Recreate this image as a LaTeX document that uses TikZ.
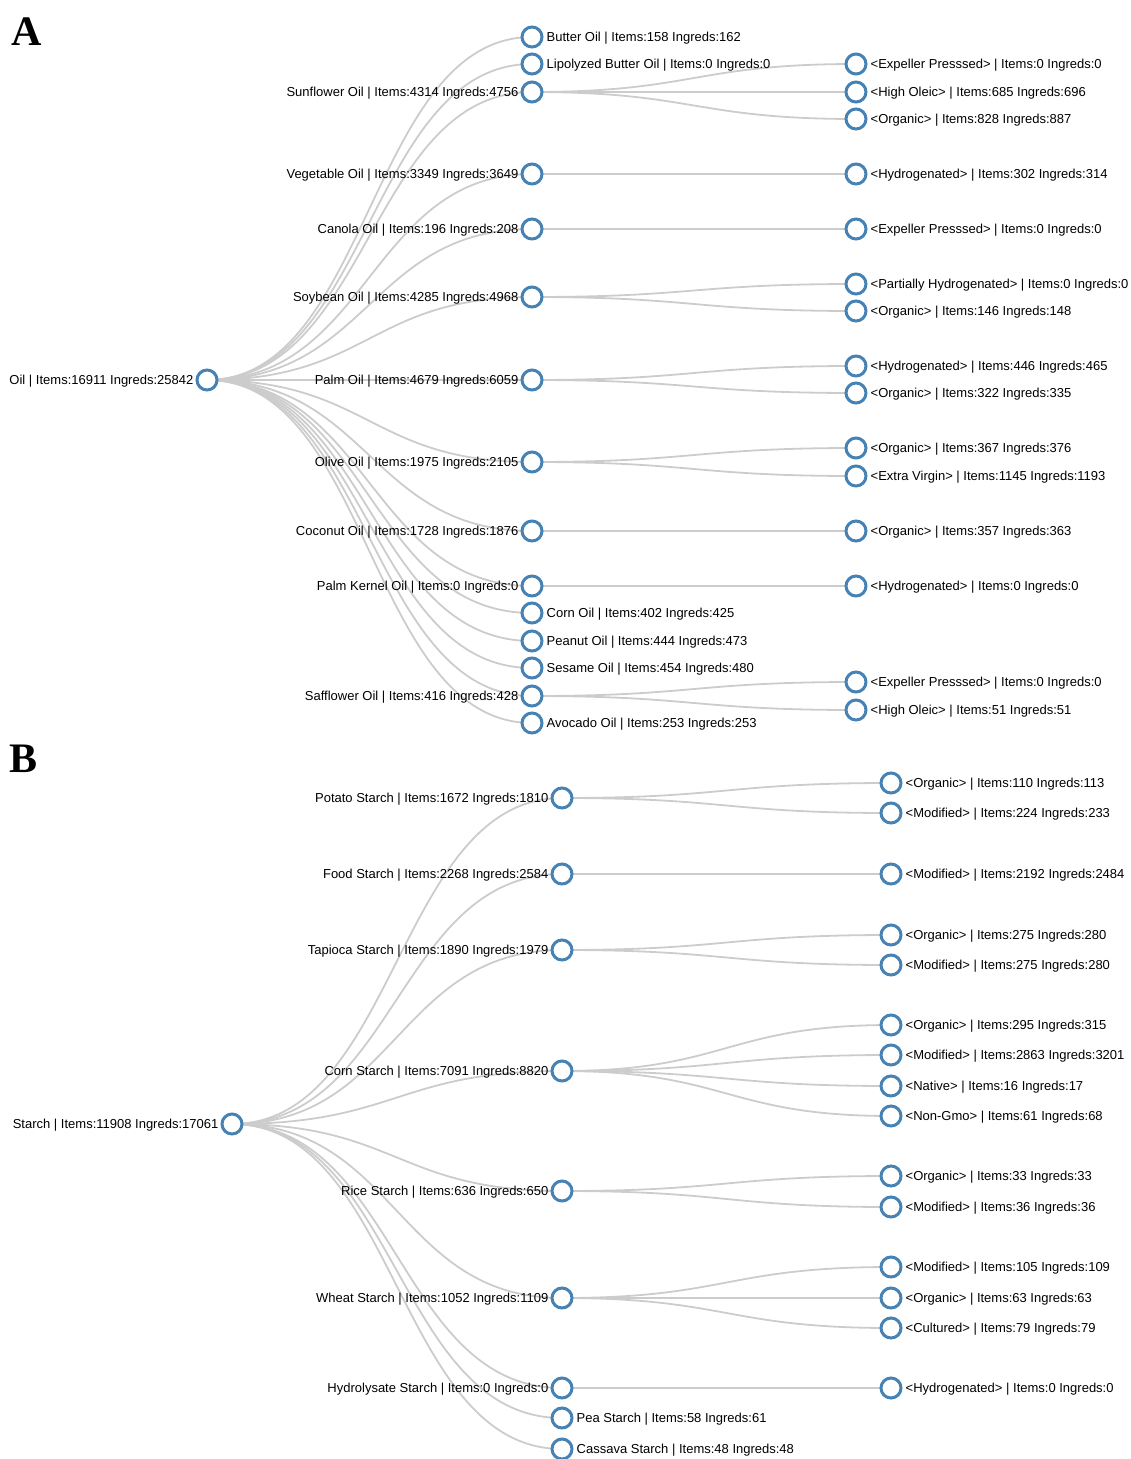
\documentclass[tikz,border=0pt]{standalone}
\usepackage{fontspec}
\setmainfont{Liberation Sans}
\newfontfamily\panelfont{Liberation Serif}
\usepackage{xcolor}
\usepackage{tikz}
\usetikzlibrary{calc,backgrounds}
\definecolor{steel}{HTML}{4682B4}
\definecolor{linkgray}{HTML}{CCCCCC}
\begin{document}
\begin{tikzpicture}[
    x=1pt,y=-1pt,
    lbl/.style={font=\fontsize{13}{15}\selectfont,inner sep=0pt,text height=9.5pt,text depth=0.4pt},
    nd/.style={circle,draw=steel,fill=white,line width=3pt,minimum size=20pt,inner sep=0pt,label distance=2.5pt},
    lft/.style={nd,label={[lbl,xshift=-2pt]left:{#1}}},
    rgt/.style={nd,label={[lbl,xshift=3pt]right:{#1}}},
    panel/.style={font=\panelfont\fontsize{42}{42}\selectfont\bfseries,inner sep=0pt,anchor=base west},
    link/.style={draw=linkgray,line width=1.8pt,
      to path={let \p1=(\tikztostart), \p2=(\tikztotarget) in
        .. controls ({(\x1+\x2)/2},\y1) and ({(\x1+\x2)/2},\y2) .. (\tikztotarget)}}
  ]
    \useasboundingbox (0,0) rectangle (1131,1459);
    \node[panel] (pA) at (11,45) {A};
    \node[panel] (pB) at (9,772) {B};
    % oil tree
    \node[lft={Oil | Items:16911 Ingreds:25842}] (oil) at (207,380) {};
    \node[rgt={Butter Oil | Items:158 Ingreds:162}] (butter) at (532,37) {};
    \node[rgt={Lipolyzed Butter Oil | Items:0 Ingreds:0}] (lipo) at (532,64) {};
    \node[lft={Sunflower Oil | Items:4314 Ingreds:4756}] (sunflower) at (532,92) {};
    \node[lft={Vegetable Oil | Items:3349 Ingreds:3649}] (vegetable) at (532,174) {};
    \node[lft={Canola Oil | Items:196 Ingreds:208}] (canola) at (532,229) {};
    \node[lft={Soybean Oil | Items:4285 Ingreds:4968}] (soybean) at (532,297) {};
    \node[lft={Palm Oil | Items:4679 Ingreds:6059}] (palm) at (532,380) {};
    \node[lft={Olive Oil | Items:1975 Ingreds:2105}] (olive) at (532,462) {};
    \node[lft={Coconut Oil | Items:1728 Ingreds:1876}] (coconut) at (532,531) {};
    \node[lft={Palm Kernel Oil | Items:0 Ingreds:0}] (palmkernel) at (532,586) {};
    \node[rgt={Corn Oil | Items:402 Ingreds:425}] (cornoil) at (532,613) {};
    \node[rgt={Peanut Oil | Items:444 Ingreds:473}] (peanut) at (532,641) {};
    \node[rgt={Sesame Oil | Items:454 Ingreds:480}] (sesame) at (532,668) {};
    \node[lft={Safflower Oil | Items:416 Ingreds:428}] (safflower) at (532,696) {};
    \node[rgt={Avocado Oil | Items:253 Ingreds:253}] (avocado) at (532,723) {};
    \node[rgt={<Expeller Presssed> | Items:0 Ingreds:0}] (sunExp) at (856,64) {};
    \node[rgt={<High Oleic> | Items:685 Ingreds:696}] (sunHigh) at (856,92) {};
    \node[rgt={<Organic> | Items:828 Ingreds:887}] (sunOrg) at (856,119) {};
    \node[rgt={<Hydrogenated> | Items:302 Ingreds:314}] (vegHyd) at (856,174) {};
    \node[rgt={<Expeller Presssed> | Items:0 Ingreds:0}] (canExp) at (856,229) {};
    \node[rgt={<Partially Hydrogenated> | Items:0 Ingreds:0}] (soyPart) at (856,284) {};
    \node[rgt={<Organic> | Items:146 Ingreds:148}] (soyOrg) at (856,311) {};
    \node[rgt={<Hydrogenated> | Items:446 Ingreds:465}] (palmHyd) at (856,366) {};
    \node[rgt={<Organic> | Items:322 Ingreds:335}] (palmOrg) at (856,393) {};
    \node[rgt={<Organic> | Items:367 Ingreds:376}] (oliveOrg) at (856,448) {};
    \node[rgt={<Extra Virgin> | Items:1145 Ingreds:1193}] (oliveExtra) at (856,476) {};
    \node[rgt={<Organic> | Items:357 Ingreds:363}] (cocoOrg) at (856,531) {};
    \node[rgt={<Hydrogenated> | Items:0 Ingreds:0}] (pkHyd) at (856,586) {};
    \node[rgt={<Expeller Presssed> | Items:0 Ingreds:0}] (saffExp) at (856,682) {};
    \node[rgt={<High Oleic> | Items:51 Ingreds:51}] (saffHigh) at (856,710) {};
    % starch tree
    \node[lft={Starch | Items:11908 Ingreds:17061}] (starch) at (232,1124) {};
    \node[lft={Potato Starch | Items:1672 Ingreds:1810}] (potato) at (562,798) {};
    \node[lft={Food Starch | Items:2268 Ingreds:2584}] (food) at (562,874) {};
    \node[lft={Tapioca Starch | Items:1890 Ingreds:1979}] (tapioca) at (562,950) {};
    \node[lft={Corn Starch | Items:7091 Ingreds:8820}] (cornst) at (562,1071) {};
    \node[lft={Rice Starch | Items:636 Ingreds:650}] (rice) at (562,1191) {};
    \node[lft={Wheat Starch | Items:1052 Ingreds:1109}] (wheat) at (562,1298) {};
    \node[lft={Hydrolysate Starch | Items:0 Ingreds:0}] (hydro) at (562,1388) {};
    \node[rgt={Pea Starch | Items:58 Ingreds:61}] (pea) at (562,1418) {};
    \node[rgt={Cassava Starch | Items:48 Ingreds:48}] (cassava) at (562,1449) {};
    \node[rgt={<Organic> | Items:110 Ingreds:113}] (potOrg) at (891,783) {};
    \node[rgt={<Modified> | Items:224 Ingreds:233}] (potMod) at (891,813) {};
    \node[rgt={<Modified> | Items:2192 Ingreds:2484}] (foodMod) at (891,874) {};
    \node[rgt={<Organic> | Items:275 Ingreds:280}] (tapOrg) at (891,935) {};
    \node[rgt={<Modified> | Items:275 Ingreds:280}] (tapMod) at (891,965) {};
    \node[rgt={<Organic> | Items:295 Ingreds:315}] (cornOrg) at (891,1025) {};
    \node[rgt={<Modified> | Items:2863 Ingreds:3201}] (cornMod) at (891,1055) {};
    \node[rgt={<Native> | Items:16 Ingreds:17}] (cornNat) at (891,1086) {};
    \node[rgt={<Non-Gmo> | Items:61 Ingreds:68}] (cornGmo) at (891,1116) {};
    \node[rgt={<Organic> | Items:33 Ingreds:33}] (riceOrg) at (891,1176) {};
    \node[rgt={<Modified> | Items:36 Ingreds:36}] (riceMod) at (891,1207) {};
    \node[rgt={<Modified> | Items:105 Ingreds:109}] (wheatMod) at (891,1267) {};
    \node[rgt={<Organic> | Items:63 Ingreds:63}] (wheatOrg) at (891,1298) {};
    \node[rgt={<Cultured> | Items:79 Ingreds:79}] (wheatCult) at (891,1328) {};
    \node[rgt={<Hydrogenated> | Items:0 Ingreds:0}] (hydroHyd) at (891,1388) {};
    \begin{scope}[on background layer]
    \draw[link] (oil.center) to (butter.center);
    \draw[link] (oil.center) to (lipo.center);
    \draw[link] (oil.center) to (sunflower.center);
    \draw[link] (oil.center) to (vegetable.center);
    \draw[link] (oil.center) to (canola.center);
    \draw[link] (oil.center) to (soybean.center);
    \draw[link] (oil.center) to (palm.center);
    \draw[link] (oil.center) to (olive.center);
    \draw[link] (oil.center) to (coconut.center);
    \draw[link] (oil.center) to (palmkernel.center);
    \draw[link] (oil.center) to (cornoil.center);
    \draw[link] (oil.center) to (peanut.center);
    \draw[link] (oil.center) to (sesame.center);
    \draw[link] (oil.center) to (safflower.center);
    \draw[link] (oil.center) to (avocado.center);
    \draw[link] (sunflower.center) to (sunExp.center);
    \draw[link] (sunflower.center) to (sunHigh.center);
    \draw[link] (sunflower.center) to (sunOrg.center);
    \draw[link] (vegetable.center) to (vegHyd.center);
    \draw[link] (canola.center) to (canExp.center);
    \draw[link] (soybean.center) to (soyPart.center);
    \draw[link] (soybean.center) to (soyOrg.center);
    \draw[link] (palm.center) to (palmHyd.center);
    \draw[link] (palm.center) to (palmOrg.center);
    \draw[link] (olive.center) to (oliveOrg.center);
    \draw[link] (olive.center) to (oliveExtra.center);
    \draw[link] (coconut.center) to (cocoOrg.center);
    \draw[link] (palmkernel.center) to (pkHyd.center);
    \draw[link] (safflower.center) to (saffExp.center);
    \draw[link] (safflower.center) to (saffHigh.center);
    \draw[link] (starch.center) to (potato.center);
    \draw[link] (starch.center) to (food.center);
    \draw[link] (starch.center) to (tapioca.center);
    \draw[link] (starch.center) to (cornst.center);
    \draw[link] (starch.center) to (rice.center);
    \draw[link] (starch.center) to (wheat.center);
    \draw[link] (starch.center) to (hydro.center);
    \draw[link] (starch.center) to (pea.center);
    \draw[link] (starch.center) to (cassava.center);
    \draw[link] (potato.center) to (potOrg.center);
    \draw[link] (potato.center) to (potMod.center);
    \draw[link] (food.center) to (foodMod.center);
    \draw[link] (tapioca.center) to (tapOrg.center);
    \draw[link] (tapioca.center) to (tapMod.center);
    \draw[link] (cornst.center) to (cornOrg.center);
    \draw[link] (cornst.center) to (cornMod.center);
    \draw[link] (cornst.center) to (cornNat.center);
    \draw[link] (cornst.center) to (cornGmo.center);
    \draw[link] (rice.center) to (riceOrg.center);
    \draw[link] (rice.center) to (riceMod.center);
    \draw[link] (wheat.center) to (wheatMod.center);
    \draw[link] (wheat.center) to (wheatOrg.center);
    \draw[link] (wheat.center) to (wheatCult.center);
    \draw[link] (hydro.center) to (hydroHyd.center);
    \end{scope}
  \end{tikzpicture}
\end{document}
